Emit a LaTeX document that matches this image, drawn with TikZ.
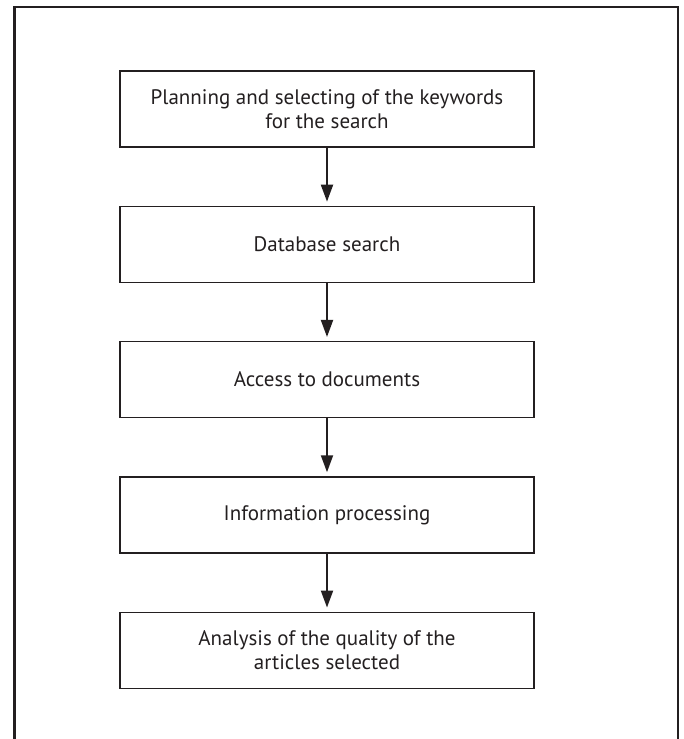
\documentclass[tikz,border=0pt]{standalone}
\usepackage{fontspec}
\setmainfont{PT Sans}
\usepackage{tikz}
\usetikzlibrary{arrows.meta}
\usetikzlibrary{positioning}
\definecolor{ink}{HTML}{231F20}
\tikzset{>={Triangle[length=17pt,width=12pt]}}

\begin{document}
\begin{tikzpicture}[x=1pt, y=-1pt, node distance=58pt,
    stepbox/.style={draw=ink, line width=1.3pt, text=ink, minimum width=414pt,
        minimum height=76pt, align=center, font=\fontsize{21}{24}\selectfont},
    flow/.style={->, draw=ink, line width=2pt, shorten >=4pt}]
    \useasboundingbox (0,0) rectangle (683,739);

    % Outer frame
    \draw[ink, line width=2.8pt] (14.5,750) -- (14.5,7) -- (678,7) -- (678,750);

    % Steps
    \node[stepbox] (plan) at (327,109) {Planning and selecting of the keywords\\for the search};
    \node[stepbox, below=of plan] (search) {Database search};
    \node[stepbox, below=of search] (access) {Access to documents};
    \node[stepbox, below=of access] (process) {Information processing};
    \node[stepbox, below=of process] (quality) {Analysis of the quality of the\\articles selected};

    % Arrows
    \draw[flow] (plan) -- (search);
    \draw[flow] (search) -- (access);
    \draw[flow] (access) -- (process);
    \draw[flow] (process) -- (quality);
\end{tikzpicture}
\end{document}
